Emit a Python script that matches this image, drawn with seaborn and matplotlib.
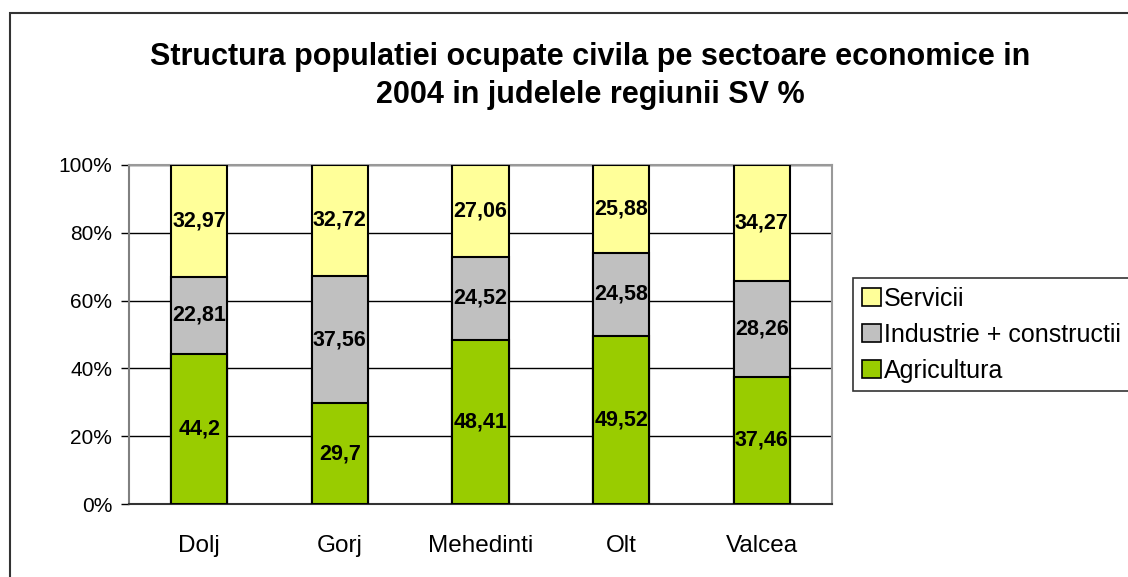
import numpy as np
import pandas as pd
import seaborn as sns
import matplotlib.pyplot as plt
from matplotlib.patches import Patch, Rectangle


# date
judete = ['Dolj', 'Gorj', 'Mehedinti', 'Olt', 'Valcea']
agricultura = [44.2, 29.7, 48.41, 49.52, 37.46]
industrie = [22.81, 37.56, 24.52, 24.58, 28.26]
servicii = [32.97, 32.72, 27.06, 25.88, 34.27]

culori = {'Servicii': '#FFFF99', 'Industrie + constructii': '#C0C0C0', 'Agricultura': '#99CC00'}

sns.set_style('white')
plt.rcParams['font.family'] = ['Liberation Sans', 'DejaVu Sans']
plt.rcParams['text.color'] = 'black'
plt.rcParams['xtick.labelcolor'] = 'black'
plt.rcParams['ytick.labelcolor'] = 'black'

df = pd.DataFrame({'judet': judete, 'agr': agricultura, 'ind': industrie, 'ser': servicii})
total = df['agr'] + df['ind'] + df['ser']
# 100% stivuit
df['p_agr'] = df['agr'] / total * 100
df['p_ind'] = (df['agr'] + df['ind']) / total * 100
df['p_ser'] = 100.0

fig = plt.figure(figsize=(11.28, 5.77), dpi=100)
ax = fig.add_axes([129 / 1128, 1 - 504 / 577, (832 - 129) / 1128, (504 - 165) / 577])

# cadru in jurul graficului
fig.patches.append(Rectangle((10 / 1128, -0.1), 1.2, 1.1 - 13 / 577,
                             transform=fig.transFigure, fill=False,
                             edgecolor='#333333', linewidth=1.5))

for col, name in [('p_ser', 'Servicii'), ('p_ind', 'Industrie + constructii'), ('p_agr', 'Agricultura')]:
    sns.barplot(x='judet', y=col, data=df, color=culori[name], width=0.4,
                edgecolor='black', linewidth=1.5, saturation=1, ax=ax, zorder=3)

# etichete valori
for i in range(len(judete)):
    a = df['p_agr'][i]
    b = df['p_ind'][i]
    for y, v in [(a / 2, agricultura[i]), ((a + b) / 2, industrie[i]), ((b + 100) / 2, servicii[i])]:
        ax.text(i, y, str(v).replace('.', ','), ha='center', va='center',
                fontsize=15.5, fontweight='bold', zorder=5)

ax.set_ylim(0, 100)
ax.set_xlim(-0.5, 4.5)
ax.set_yticks(np.arange(0, 101, 20))
ax.set_yticklabels([f'{v}%' for v in range(0, 101, 20)], fontsize=15)
ax.set_xticks(range(5))
ax.set_xticklabels(judete, fontsize=17.5)
ax.set_xlabel('')
ax.set_ylabel('')
ax.yaxis.grid(True, color='black', linewidth=1)
ax.set_axisbelow(True)

# tick-uri intre categorii
ax.set_xticks(np.arange(-0.5, 5, 1), minor=True)
ax.tick_params(axis='x', which='major', length=0, pad=22)
ax.tick_params(axis='x', which='minor', length=6, color='#555555', width=1.2, direction='out')
ax.tick_params(axis='y', length=6, color='black', width=1, direction='out', left=True, pad=6)

for s in ['top', 'right']:
    ax.spines[s].set_color('#999999')
    ax.spines[s].set_linewidth(1.5)
ax.spines['left'].set_color('#808080')
ax.spines['left'].set_linewidth(1.5)
ax.spines['bottom'].set_color('#333333')
ax.spines['bottom'].set_linewidth(1.5)

fig.text(590 / 1128, 1 - 57 / 577, 'Structura populatiei ocupate civila pe sectoare economice in',
         ha='center', va='center', fontsize=22, fontweight='bold')
fig.text(590 / 1128, 1 - 95 / 577, '2004 in judelele regiunii SV %',
         ha='center', va='center', fontsize=22, fontweight='bold')

handles = [Patch(facecolor=culori[n], edgecolor='black', linewidth=1.2, label=n)
           for n in ['Servicii', 'Industrie + constructii', 'Agricultura']]
leg = fig.legend(handles=handles, loc='upper left', bbox_to_anchor=(853 / 1128, 1 - 278 / 577),
                 fontsize=18, frameon=True, fancybox=False, shadow=False,
                 handlelength=0.75, handleheight=0.75, handletextpad=0.15,
                 labelspacing=0.48, borderpad=0.35, borderaxespad=0)
leg.get_frame().set_edgecolor('black')
leg.get_frame().set_linewidth(1.2)

plt.savefig('out.png', dpi=100)
